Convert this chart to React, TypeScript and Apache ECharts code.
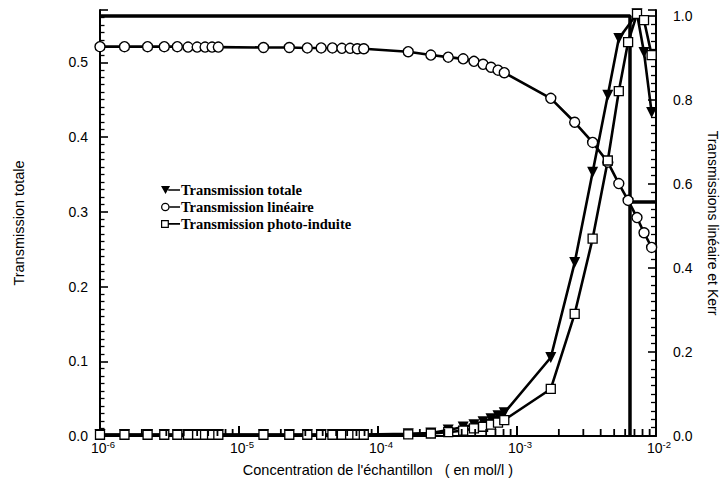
import React, { useEffect, useRef } from "react";
import * as echarts from "echarts";

// Concentrations (mol/l), shared by the three series
const CONC = [
  1e-6, 1.5e-6, 2.2e-6, 2.9e-6, 3.6e-6, 4.3e-6, 5.0e-6, 5.7e-6, 6.4e-6, 7.1e-6,
  1.5e-5, 2.3e-5, 3.1e-5, 3.9e-5, 4.7e-5, 5.5e-5, 6.3e-5, 7.1e-5, 7.9e-5,
  1.65e-4, 2.4e-4, 3.2e-4, 4.1e-4, 4.9e-4, 5.7e-4, 6.5e-4, 7.3e-4, 8.1e-4,
  1.75e-3, 2.6e-3, 3.5e-3, 4.5e-3, 5.4e-3, 6.3e-3, 7.3e-3, 8.2e-3, 9.3e-3,
];

// Transmission totale (left axis)
const TOTALE = [
  0.002, 0.002, 0.002, 0.002, 0.002, 0.002, 0.002, 0.002, 0.002, 0.002,
  0.002, 0.002, 0.002, 0.002, 0.002, 0.002, 0.002, 0.002, 0.002,
  0.003, 0.004, 0.008, 0.012, 0.015, 0.019, 0.023, 0.027, 0.031,
  0.105, 0.232, 0.353, 0.456, 0.532, null, 0.565, 0.513, 0.433,
];

// Transmission linéaire (right axis)
const LINEAIRE = [
  0.927, 0.927, 0.927, 0.927, 0.927, 0.926, 0.926, 0.926, 0.926, 0.926,
  0.925, 0.925, 0.924, 0.924, 0.924, 0.923, 0.923, 0.922, 0.922,
  0.915, 0.907, 0.902, 0.898, 0.892, 0.885, 0.878, 0.871, 0.865,
  0.804, 0.747, 0.699, 0.652, 0.601, 0.561, 0.52, 0.484, 0.449,
];

// Transmission photo-induite (right axis)
const PHOTO = [
  0.003, 0.003, 0.003, 0.003, 0.003, 0.003, 0.003, 0.003, 0.003, 0.003,
  0.003, 0.003, 0.003, 0.003, 0.003, 0.003, 0.003, 0.003, 0.003,
  0.004, 0.006, 0.009, 0.013, 0.018, 0.022, 0.027, 0.032, 0.038,
  0.112, 0.291, 0.47, 0.656, 0.821, 0.938, 1.005, 0.99, 0.907,
];

// Annotation lines (right axis)
const ANNOT_FRAME = [[1e-6, 1.0], [6.5e-3, 1.0], [6.5e-3, 0]];
const ANNOT_BAR = [[6.5e-3, 0.557], [1e-2, 0.557]];

const LEFT_TICKS = [0, 0.1, 0.2, 0.3, 0.4, 0.5];
const RIGHT_TICKS = [0, 0.2, 0.4, 0.6, 0.8, 1.0];
const X_MIN = 1e-6;
const X_MAX = 1e-2;
const DECADES = [-6, -5, -4, -3];
const MINOR_MULT = [2, 3, 4, 5, 6, 7, 8, 9];

const NAMES = [
  "Transmission totale",
  "Transmission linéaire",
  "Transmission photo-induite",
];

// legend icons: marker at the left end, short line to the right
const ICON_TRI = "path://M0,0.5 L10,0.5 L5,9.5 Z M8,4.1 L21,4.1 L21,5.9 L8,5.9 Z";
const ICON_CIRC =
  "path://M0.3,5 A4.7,4.7 0 1,0 9.7,5 A4.7,4.7 0 1,0 0.3,5 Z M1.7,5 A3.3,3.3 0 1,1 8.3,5 A3.3,3.3 0 1,1 1.7,5 Z M9.5,4.1 L21,4.1 L21,5.9 L9.5,5.9 Z";
const ICON_RECT =
  "path://M0.5,0.8 L9,0.8 L9,9.3 L0.5,9.3 Z M1.8,2.1 L1.8,8 L7.7,8 L7.7,2.1 Z M9,4.1 L21,4.1 L21,5.9 L9,5.9 Z";

const SANS = "Liberation Sans";
const SERIF = "Liberation Serif";

function pairs(values: (number | null)[]) {
  const out: number[][] = [];
  values.forEach((v, i) => {
    if (v !== null) out.push([CONC[i], v]);
  });
  return out;
}

export default function App() {
  const ref = useRef<HTMLDivElement>(null);

  useEffect(() => {
    if (!ref.current) return;
    const chart = echarts.init(ref.current, undefined, { renderer: "svg" });

    const minorTicks: number[][] = [];
    DECADES.forEach((d) =>
      MINOR_MULT.forEach((m) => minorTicks.push([m * Math.pow(10, d)]))
    );

    const lineCommon = {
      type: "line",
      smooth: false,
      showAllSymbol: true,
      lineStyle: { color: "#000", width: 2.6 },
      emphasis: { disabled: true },
      z: 3,
    };

    const legendItem = (name: string, icon: string) => ({
      name,
      icon,
      itemStyle: { color: "#000", borderWidth: 0 },
    });

    const option: any = {
      animation: false,
      backgroundColor: "#fff",
      grid: {
        left: 100,
        right: 60,
        top: 10,
        bottom: 57,
        show: false,
      },
      legend: {
        data: [
          legendItem(NAMES[0], ICON_TRI),
          legendItem(NAMES[1], ICON_CIRC),
          legendItem(NAMES[2], ICON_RECT),
        ],
        orient: "vertical",
        left: 156,
        top: 177,
        itemWidth: 19,
        itemHeight: 9,
        itemGap: 1,
        textStyle: {
          fontFamily: SERIF,
          fontWeight: "bold",
          fontSize: 14.5,
          lineHeight: 16,
          color: "#000",
          padding: [0, 0, 0, -4],
        },
        selectedMode: false,
      },
      xAxis: {
        type: "log",
        logBase: 10,
        min: X_MIN,
        max: X_MAX,
        name: "Concentration de l'échantillon   ( en mol/l )",
        nameLocation: "middle",
        nameGap: 26,
        nameTextStyle: { fontFamily: SANS, fontSize: 14.5, color: "#000" },
        axisLine: { lineStyle: { color: "#000", width: 2 } },
        axisTick: { inside: true, length: 10, lineStyle: { color: "#000", width: 2 } },
        splitLine: { show: false },
        axisLabel: {
          margin: 3,
          padding: [0, 0, 0, 6],
          formatter: (v: number) => {
            const e = Math.round(Math.log10(v));
            return `{b|10}{s|${e}}`;
          },
          rich: {
            b: { fontFamily: SANS, fontSize: 14, color: "#000", lineHeight: 17 },
            s: {
              fontFamily: SANS,
              fontSize: 9.5,
              color: "#000",
              verticalAlign: "top",
              lineHeight: 10,
            },
          },
        },
      },
      yAxis: [
        {
          type: "value",
          position: "left",
          min: 0,
          max: 0.57,
          interval: 0.1,
          name: "Transmission totale",
          nameLocation: "middle",
          nameGap: 74,
          nameTextStyle: { fontFamily: SANS, fontSize: 14.5, color: "#000" },
          axisLine: { show: true, lineStyle: { color: "#000", width: 2 } },
          axisTick: { inside: true, length: 8, lineStyle: { color: "#000", width: 1.6 } },
          minorTick: { show: true, splitNumber: 10, length: 4.5, lineStyle: { color: "#000", width: 1.3 } },
          splitLine: { show: false },
          axisLabel: {
            showMaxLabel: false,
            margin: 12,
            fontFamily: SANS,
            fontSize: 14,
            color: "#000",
            formatter: (v: number) =>
              LEFT_TICKS.some((t) => Math.abs(t - v) < 1e-9) ? v.toFixed(1) : "",
          },
        },
        {
          type: "value",
          position: "right",
          min: 0,
          max: 1.0143,
          interval: 0.2,
          name: "Transmissions linéaire et Kerr",
          nameLocation: "middle",
          nameRotate: -90,
          nameGap: 50,
          nameTextStyle: { fontFamily: SANS, fontSize: 14, color: "#000" },
          axisLine: { show: true, lineStyle: { color: "#000", width: 2 } },
          axisTick: { inside: true, length: 8, lineStyle: { color: "#000", width: 1.6 } },
          minorTick: { show: true, splitNumber: 10, length: 5, lineStyle: { color: "#000", width: 1.3 } },
          splitLine: { show: false },
          axisLabel: {
            showMaxLabel: false,
            margin: 17,
            fontFamily: SANS,
            fontSize: 14,
            color: "#000",
            formatter: (v: number) =>
              RIGHT_TICKS.some((t) => Math.abs(t - v) < 1e-9) ? v.toFixed(1) : "",
          },
        },
      ],
      series: [
        {
          ...lineCommon,
          name: NAMES[0],
          yAxisIndex: 0,
          data: pairs(TOTALE),
          symbol: "triangle",
          symbolRotate: 180,
          symbolSize: 11,
          itemStyle: { color: "#000", borderColor: "#000", borderWidth: 0 },
        },
        {
          ...lineCommon,
          name: NAMES[1],
          yAxisIndex: 1,
          data: pairs(LINEAIRE),
          symbol: "circle",
          symbolSize: 10,
          itemStyle: { color: "#fff", borderColor: "#000", borderWidth: 1.4 },
        },
        {
          ...lineCommon,
          name: NAMES[2],
          yAxisIndex: 1,
          data: pairs(PHOTO),
          symbol: "rect",
          symbolSize: 9,
          itemStyle: { color: "#fff", borderColor: "#000", borderWidth: 1.3 },
        },
        {
          type: "line",
          name: "frame",
          yAxisIndex: 1,
          data: ANNOT_FRAME,
          symbol: "none",
          lineStyle: { color: "#000", width: 3.5 },
          silent: true,
          z: 2,
        },
        {
          type: "line",
          name: "bar",
          yAxisIndex: 1,
          data: ANNOT_BAR,
          symbol: "none",
          lineStyle: { color: "#000", width: 3.5 },
          silent: true,
          z: 2,
        },
        {
          type: "custom",
          name: "minorX",
          xAxisIndex: 0,
          yAxisIndex: 0,
          silent: true,
          clip: false,
          z: 5,
          data: minorTicks,
          encode: { x: 0 },
          renderItem: (_p: any, api: any) => {
            const pt = api.coord([api.value(0), 0]);
            return {
              type: "line",
              shape: { x1: pt[0], y1: pt[1], x2: pt[0], y2: pt[1] - 7 },
              style: { stroke: "#000", lineWidth: 1.8 },
            };
          },
        },
      ],
    };

    chart.setOption(option);
    return () => chart.dispose();
  }, []);

  return (
    <div
      ref={ref}
      style={{ width: 728, height: 493, position: "absolute", left: 0, top: 0, background: "#fff" }}
    />
  );
}
